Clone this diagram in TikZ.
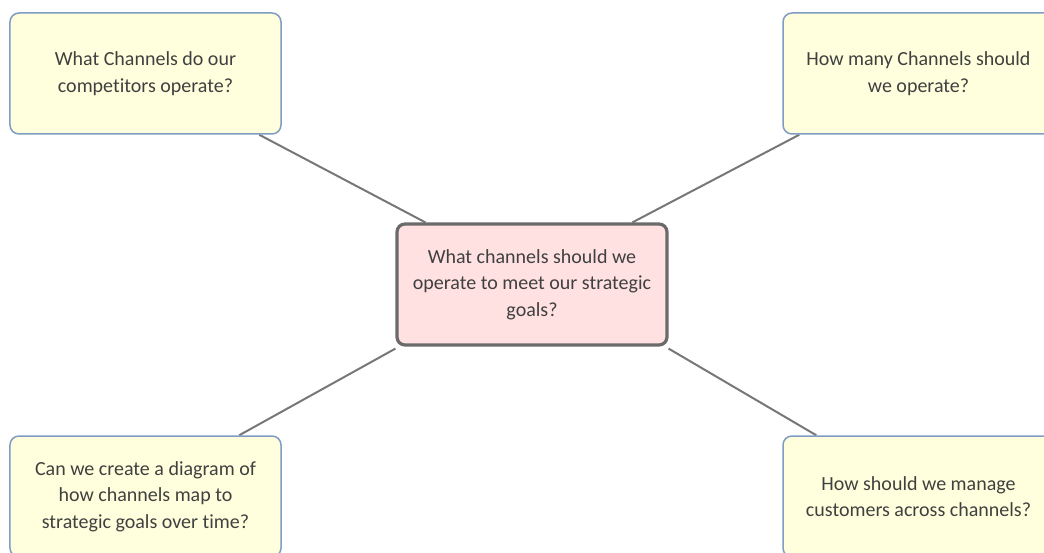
\documentclass[tikz,border=0pt]{standalone}
\usepackage{fontspec}
\setmainfont{Carlito}[Ligatures=NoCommon]
\usetikzlibrary{calc,backgrounds}
\definecolor{qfill}{HTML}{FFFFDD}
\definecolor{qborder}{HTML}{7E9CC4}
\definecolor{cfill}{HTML}{FFE1E1}
\definecolor{cborder}{HTML}{6B6B6B}
\definecolor{linkc}{HTML}{777777}
\definecolor{txt}{HTML}{404040}
\tikzset{
  qbox/.style={draw=qborder, fill=qfill, line width=1.5bp, rounded corners=9bp,
    minimum width=271bp, minimum height=121bp, align=center, text=txt,
    font=\fontsize{20bp}{26.5bp}\selectfont, inner sep=0pt},
  cbox/.style={qbox, draw=cborder, fill=cfill, line width=3.2bp, rounded corners=8bp,
    minimum width=270bp, minimum height=121bp},
  link/.style={draw=linkc, line width=2bp}
}
\begin{document}
\begin{tikzpicture}[x=1bp,y=-1bp]
\useasboundingbox (0,0) rectangle (1044,553);
\clip (0,0) rectangle (1044,553);
\node[cbox] (c) at (532,284.5) {What channels should we\\operate to meet our strategic\\goals?};
\node[qbox] (tl) at (145.5,73.5) {What Channels do our\\competitors operate?};
\node[qbox] (tr) at (918.5,73.5) {How many Channels should\\we operate?};
\node[qbox] (bl) at (145.5,496.5) {Can we create a diagram of\\how channels map to\\strategic goals over time?};
\node[qbox] (br) at (918.5,496.5) {How should we manage\\customers across channels?};
\begin{scope}[on background layer]
\draw[link] ($(tl.south west)+(250,0)$) -- ($(c.north west)+(30,0)$);
\draw[link] ($(tr.south west)+(17,0)$) -- ($(c.north west)+(237,0)$);
\draw[link] ($(bl.north west)+(230,0)$) -- ($(c.south west)+(0,2)$);
\draw[link] ($(br.north west)+(34,0)$) -- ($(c.south east)+(0,2)$);
\end{scope}
\end{tikzpicture}
\end{document}
